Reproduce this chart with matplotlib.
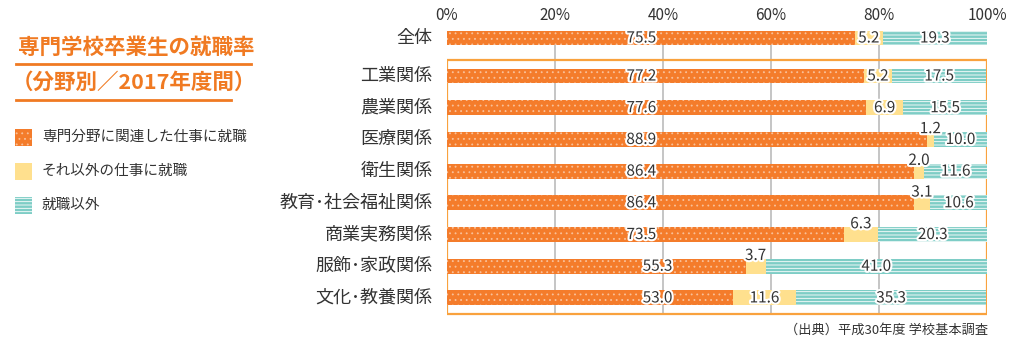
import matplotlib
matplotlib.use("Agg")
import matplotlib.pyplot as plt
import matplotlib.patheffects as pe
from matplotlib.patches import Rectangle

plt.rcParams['font.family'] = ['Noto Sans CJK JP', 'DejaVu Sans']
plt.rcParams['hatch.linewidth'] = 0.6

categories = ['全体', '工業関係', '農業関係', '医療関係', '衛生関係',
              '教育･社会福祉関係', '商業実務関係', '服飾･家政関係', '文化･教養関係']
related = [75.5, 77.2, 77.6, 88.9, 86.4, 86.4, 73.5, 55.3, 53.0]
other_job = [5.2, 5.2, 6.9, 1.2, 2.0, 3.1, 6.3, 3.7, 11.6]
not_employed = [19.3, 17.5, 15.5, 10.0, 11.6, 10.6, 20.3, 41.0, 35.3]
tick_labels = ['0%', '20%', '40%', '60%', '80%', '100%']
legend_labels = ['専門分野に関連した仕事に就職', 'それ以外の仕事に就職', '就職以外']
title_lines = ['専門学校卒業生の就職率', '（分野別／2017年度間）']
source_text = '（出典）平成30年度 学校基本調査'

ORANGE = '#F47C2B'
DOT = '#F9C19A'
YELLOW = '#FFE08E'
TEAL = '#7ECDC6'
TITLE_ORANGE = '#F07A22'
BOX_ORANGE = '#F9A23E'
GRID = '#BBBBBB'
TEXT = '#333333'

W, H = 1024, 344
fig = plt.figure(figsize=(W / 100, H / 100), dpi=100)

# Row positions: the overall row sits apart from the per-field rows
positions = [0.0] + [1.2 + i for i in range(len(categories) - 1)]
row_px = 31.7        # pixels per row unit
y0_px = 38           # pixel row of the first bar

def px_to_y(p):
    return (p - y0_px) / row_px

left_px, right_px = 447, 987
ax = fig.add_axes([left_px / W, 0, (right_px - left_px) / W, 1])
ax.set_xlim(0, 100)
ax.set_ylim(px_to_y(H), px_to_y(0))
ax.axis('off')

bar_h = 0.47
stroke = [pe.withStroke(linewidth=3, foreground='white')]

# grid lines and field box
box_top, box_bottom = px_to_y(60), px_to_y(314)
for xv in [20, 40, 60, 80]:
    ax.plot([xv, xv], [bar_h / 2, box_bottom], color=GRID, lw=1.2, zorder=0)
ax.add_patch(Rectangle((0, box_top), 100, box_bottom - box_top, fill=False,
                       edgecolor=BOX_ORANGE, lw=1.6, zorder=0.5))

for i, y in enumerate(positions):
    a, b, c = related[i], other_job[i], not_employed[i]
    ax.barh(y, a, height=bar_h, left=0, color=ORANGE, edgecolor=DOT,
            hatch='...', lw=0, zorder=2)
    ax.barh(y, b, height=bar_h, left=a, color=YELLOW, lw=0, zorder=2)
    ax.barh(y, c, height=bar_h, left=a + b, color=TEAL, edgecolor='white',
            hatch='-----', lw=0, zorder=2)

    lx = 39 if a < 60 else 36
    ax.text(lx, y, f'{a:.1f}', ha='center', va='center', fontsize=11,
            color=TEXT, path_effects=stroke, zorder=5)
    ty = y - 0.34 if b < 6.5 and i in (3, 4, 5, 6, 7) else y
    ax.text(a + b / 2, ty, f'{b:.1f}', ha='center', va='center', fontsize=11,
            color=TEXT, path_effects=stroke, zorder=5)
    ax.text(a + b + c / 2, y, f'{c:.1f}', ha='center', va='center', fontsize=11,
            color=TEXT, path_effects=stroke, zorder=5)
    ax.text(-2.7, y, categories[i], ha='right', va='center', fontsize=13,
            color=TEXT, zorder=5)

for k, lab in enumerate(tick_labels):
    ax.text(k * 20, px_to_y(15), lab, ha='center', va='center', fontsize=11,
            color=TEXT)

# title and legend on the left
def fx(p):
    return p / W

def fy(p):
    return 1 - p / H

fig.text(fx(18), fy(47), title_lines[0], fontsize=15.5, fontweight='bold',
         color=TITLE_ORANGE, ha='left', va='center')
fig.add_artist(plt.Line2D([fx(16), fx(251)], [fy(64), fy(64)],
                          color=TITLE_ORANGE, lw=2))
fig.text(fx(12), fy(82), title_lines[1], fontsize=15.5, fontweight='bold',
         color=TITLE_ORANGE, ha='left', va='center')
fig.add_artist(plt.Line2D([fx(16), fx(231)], [fy(100), fy(100)],
                          color=TITLE_ORANGE, lw=2))

legend_styles = [dict(facecolor=ORANGE, edgecolor=DOT, hatch='...'),
                 dict(facecolor=YELLOW, edgecolor=YELLOW),
                 dict(facecolor=TEAL, edgecolor='white', hatch='-----')]
for k, (lab, st) in enumerate(zip(legend_labels, legend_styles)):
    cy = 137 + 34 * k
    fig.add_artist(Rectangle((fx(15), fy(cy + 8.5)), fx(17), 17 / H,
                             transform=fig.transFigure, lw=0, **st))
    fig.text(fx(42), fy(cy), lab, fontsize=10.5, color=TEXT, ha='left',
             va='center')

fig.text(fx(988), fy(330), source_text, fontsize=9.5, color=TEXT,
         ha='right', va='center')

fig.savefig('out.png', dpi=100)
